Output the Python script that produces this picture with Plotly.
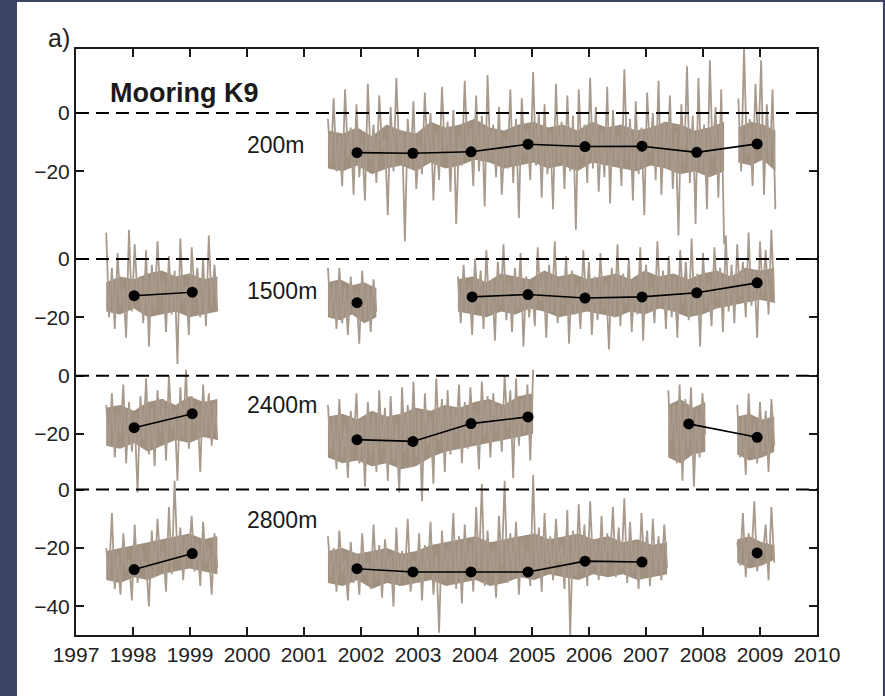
import plotly.graph_objects as go
import numpy as np

# ---------------- data ----------------
years_ticks = list(range(1997, 2011))
depth_labels = ["200m", "1500m", "2400m", "2800m"]
panel_zero = [0, -50, -90, -129]          # vertical placement of each panel's zero line

# annual means (year, value) ; None breaks the connecting line
mean_200_x = [2001.93, 2002.91, 2003.93, 2004.93, 2005.93, 2006.93, 2007.89, 2008.95]
mean_200_y = [-13.6, -13.8, -13.3, -10.7, -11.5, -11.4, -13.5, -10.6]
mean_1500_x = [1998.02, 1999.04, None, 2001.93, None, 2003.95, 2004.93, 2005.93, 2006.93, 2007.89, 2008.95]
mean_1500_y = [-12.6, -11.4, None, -15.0, None, -13.0, -12.2, -13.4, -13.0, -11.6, -8.2]
mean_2400_x = [1998.02, 1999.04, None, 2001.93, 2002.91, 2003.93, 2004.93, None, 2007.75, 2008.95]
mean_2400_y = [-17.8, -13.0, None, -21.9, -22.5, -16.4, -14.1, None, -16.5, -21.1]
mean_2800_x = [1998.02, 1999.04, None, 2001.93, 2002.91, 2003.93, 2004.93, 2005.93, 2006.93, None, 2008.95]
mean_2800_y = [-27.4, -21.9, None, -27.1, -28.2, -28.2, -28.2, -24.5, -24.8, None, -21.7]

step = 0.05  # sampling interval (years) of the raw records

# raw record segments: start year, raw values, and the dense core band (upper / lower)
s200_a_start = 2001.42
s200_a = ("-2 -18 5 -20 -8 -25 8 -15 -5 -28 3 -22 -10 -30 10 -16 -4 -24 6 -12 "
          "-9 -35 2 -20 12 -14 -6 -44 -2 -19 4 -26 -11 -21 7 -17 0 -30 -7 -23 "
          "9 -13 -3 -27 1 -38 -8 -18 11 -15 -5 -25 6 -20 -1 -32 13 -16 -4 -22 "
          "2 -28 -9 -19 8 -24 -2 -36 5 -14 -6 -23 14 -18 0 -29 3 -21 -7 -33 "
          "10 -17 -3 -26 6 -20 -1 -40 8 -15 -4 -24 12 -19 2 -27 -6 -22 9 -31 "
          "1 -18 -8 -25 15 -16 -2 -30 4 -21 -5 -35 7 -14 0 -23 11 -28 -3 -19 "
          "6 -26 -7 -42 3 -17 16 -24 -1 -38 12 -20 -4 -33 18 -15 2 -29 8 -45")
s200_a_up = "-6 -7 -5 -8 -4 -6 -7 -3 -5 -4 -2 -5 -6 -4 -3 -5 -4 -6 -3 -5 -4 -6 -5 -3 -4 -6 -5 -3"
s200_a_lo = "-19 -20 -18 -21 -19 -18 -20 -17 -19 -18 -16 -17 -19 -18 -17 -19 -18 -20 -17 -18 -19 -20 -18 -19 -21 -20 -22 -20"
s200_b_start = 2008.62
s200_b = "5 -20 22 -15 -2 -25 10 -12 18 -28 3 -18 8 -33"
s200_b_up = "-5 -3 -4 -6"
s200_b_lo = "-17 -18 -16 -20"

s1500_a_start = 1997.53
s1500_a = ("9 -20 -3 -24 2 -16 -10 -27 10 -18 5 -14 -6 -22 3 -30 -2 -17 6 -13 "
           "-7 -25 1 -19 -4 -36 7 -15 -9 -26 4 -12 -3 -20 0 -23 8 -16 -2 -18")
s1500_a_up = "-8 -6 -7 -5 -4 -6 -5 -7 -6"
s1500_a_lo = "-18 -19 -17 -20 -19 -18 -20 -19 -18"
s1500_b_start = 2001.42
s1500_b = "-3 -20 -8 -24 -3 -22 -10 -26 -6 -19 -12 -29 -4 -21 -9 -25 -7 -18"
s1500_b_up = "-8 -7 -9 -8 -10"
s1500_b_lo = "-20 -21 -19 -22 -20"
s1500_c_start = 2003.70
s1500_c = ("-6 -22 -2 -18 -9 -26 0 -15 -4 -24 3 -19 -7 -28 -1 -16 5 -21 -8 -25 "
           "-3 -17 2 -30 -6 -20 -10 -23 4 -14 -5 -27 -2 -18 6 -22 -7 -16 1 -29 "
           "-4 -19 -9 -24 3 -15 -1 -26 -6 -21 2 -17 -8 -31 -3 -20 5 -23 -5 -16 "
           "0 -25 -7 -19 4 -28 -2 -18 -10 -22 6 -16 -4 -24 1 -20 -6 -27 3 -15 "
           "-1 -21 7 -19 -5 -30 2 -17 -8 -23 4 -14 -3 -25 8 -18 -2 -22 5 -13 "
           "-1 -20 9 -16 -4 -27 6 -12 3 -19 10 -15")
s1500_c_up = "-7 -6 -8 -5 -6 -7 -4 -6 -5 -7 -6 -5 -7 -4 -6 -5 -7 -5 -4 -6 -3 -4 -3"
s1500_c_lo = "-18 -19 -20 -18 -19 -17 -18 -20 -19 -18 -19 -20 -18 -19 -17 -18 -20 -19 -17 -16 -15 -14 -15"

s2400_a_start = 1997.53
s2400_a = ("-10 -24 -6 -28 -13 -20 -3 -30 -9 -26 -15 -40 -7 -22 -1 -27 -11 -31 -5 -19 "
           "-8 -29 0 -18 -12 -36 -4 -21 2 -25 -7 -17 -10 -33 -3 -20 -6 -24 -9 -22")
s2400_a_up = "-11 -10 -12 -9 -8 -10 -7 -9 -8"
s2400_a_lo = "-24 -25 -23 -26 -24 -22 -23 -21 -22"
s2400_b_start = 2001.42
s2400_b = ("-10 -26 -14 -32 -8 -28 -17 -35 -12 -24 -6 -30 -15 -38 -9 -27 -13 -33 -5 -25 "
           "-11 -36 -7 -29 -16 -40 -4 -26 -10 -31 -2 -28 -12 -43 -6 -24 -14 -37 -1 -22 "
           "-8 -33 -5 -27 -11 -20 -3 -30 -9 -25 -4 -23 -13 -32 -2 -21 -7 -28 -6 -19 "
           "-10 -26 0 -18 -5 -35 -1 -24 -8 -20 -3 -29 2")
s2400_b_up = "-14 -13 -15 -12 -14 -13 -11 -12 -10 -11 -9 -8 -10 -7 -6"
s2400_b_lo = "-28 -30 -29 -31 -30 -32 -31 -28 -26 -25 -24 -23 -22 -21 -20"
s2400_c_start = 2007.39
s2400_c = "-5 -22 -10 -30 -3 -36 -8 -25 -4 -38 -12 -28 -6 -20"
s2400_c_up = "-10 -8 -11 -9"
s2400_c_lo = "-28 -30 -27 -26"
s2400_d_start = 2008.60
s2400_d = "-10 -28 -14 -34 -6 -25 -16 -30 -9 -27 -12 -33 -8 -24"
s2400_d_up = "-14 -13 -15 -14"
s2400_d_lo = "-27 -29 -28 -26"

s2800_a_start = 1997.53
s2800_a = ("-20 -30 -8 -34 -22 -36 -15 -28 -24 -38 -12 -32 -19 -27 -25 -40 -14 -30 -10 -26 "
           "-21 -35 -6 -29 3 -24 -13 -31 -16 -22 -9 -28 -18 -33 -11 -25 -20 -36 -15 -27")
s2800_a_up = "-21 -20 -19 -18 -17 -16 -15 -17 -16"
s2800_a_lo = "-31 -32 -30 -31 -29 -28 -27 -28 -29"
s2800_b_start = 2001.42
s2800_b = ("-16 -30 -20 -35 -14 -28 -24 -38 -18 -32 -22 -36 -15 -29 -25 -34 -12 -31 -19 -37 "
           "-17 -27 -23 -40 -13 -33 -21 -30 -10 -35 -24 -32 -15 -38 -19 -29 -11 -36 -22 -49 "
           "-14 -31 -20 -28 -8 -34 -16 -39 -12 -30 -18 -35 -6 -27 2 -33 -14 -29 -20 -37 "
           "-9 -26 3 -32 -15 -30 -11 -36 -17 -28 -21 -33 5 -29 -13 -35 -8 -27 -16 -31 "
           "-10 -25 -19 -34 -7 -50 -14 -30 -5 -28 -12 -33 -4 -26 -17 -31 -9 -29 -15 -24 "
           "-6 -30 -13 -27 -3 -32 -11 -28 -18 -34 -8 -26 -14 -33 -10 -29 -16 -31 -12 -27")
s2800_b_up = "-21 -20 -22 -21 -20 -22 -21 -19 -18 -17 -16 -18 -17 -16 -15 -17 -16 -15 -17 -16 -18 -17 -19 -18"
s2800_b_lo = "-32 -33 -31 -34 -32 -33 -32 -31 -33 -32 -31 -33 -32 -30 -31 -29 -30 -31 -29 -30 -29 -31 -30 -29"
s2800_c_start = 2008.60
s2800_c = "-18 -26 -8 -30 -15 -24 -4 -28 -20 -22 -12 -31 -6 -25"
s2800_c_up = "-17 -16 -18 -19"
s2800_c_lo = "-25 -27 -26 -24"

raw_segments = [
    [(s200_a_start, s200_a, s200_a_up, s200_a_lo), (s200_b_start, s200_b, s200_b_up, s200_b_lo)],
    [(s1500_a_start, s1500_a, s1500_a_up, s1500_a_lo), (s1500_b_start, s1500_b, s1500_b_up, s1500_b_lo),
     (s1500_c_start, s1500_c, s1500_c_up, s1500_c_lo)],
    [(s2400_a_start, s2400_a, s2400_a_up, s2400_a_lo), (s2400_b_start, s2400_b, s2400_b_up, s2400_b_lo),
     (s2400_c_start, s2400_c, s2400_c_up, s2400_c_lo), (s2400_d_start, s2400_d, s2400_d_up, s2400_d_lo)],
    [(s2800_a_start, s2800_a, s2800_a_up, s2800_a_lo), (s2800_b_start, s2800_b, s2800_b_up, s2800_b_lo),
     (s2800_c_start, s2800_c, s2800_c_up, s2800_c_lo)],
]
means = [(mean_200_x, mean_200_y), (mean_1500_x, mean_1500_y),
         (mean_2400_x, mean_2400_y), (mean_2800_x, mean_2800_y)]

# ---------------- figure ----------------
FONT = "Liberation Sans, Arial, Helvetica, sans-serif"
SPIKE_COLOR = "#a89a8c"
CORE_COLOR = "#a09080"
fig = go.Figure()

for p, segs in enumerate(raw_segments):
    for start, txt, up_txt, lo_txt in segs:
        vals = [float(v) for v in txt.split()]
        xs = [start + i * step for i in range(len(vals))]
        ys = [v + panel_zero[p] for v in vals]
        up = [float(v) + panel_zero[p] for v in up_txt.split()]
        lo = [float(v) + panel_zero[p] for v in lo_txt.split()]
        bx = list(np.linspace(xs[0], xs[-1], len(up)))
        fig.add_trace(go.Scatter(x=bx + bx[::-1], y=up + lo[::-1], mode="lines",
                                 fill="toself", fillcolor=CORE_COLOR,
                                 line=dict(width=0, color=CORE_COLOR),
                                 hoverinfo="skip", showlegend=False))
        fig.add_trace(go.Scatter(x=xs, y=ys, mode="lines",
                                 line=dict(color=SPIKE_COLOR, width=1.8),
                                 hoverinfo="skip", showlegend=False))

for p, (mx, my) in enumerate(means):
    ys = [None if v is None else v + panel_zero[p] for v in my]
    fig.add_trace(go.Scatter(x=mx, y=ys, mode="lines+markers",
                             line=dict(color="black", width=1.6),
                             marker=dict(color="black", size=11),
                             connectgaps=False, showlegend=False))

# dashed zero lines
for z in panel_zero:
    fig.add_shape(type="line", xref="paper", x0=0, x1=1, yref="y", y0=z, y1=z,
                  line=dict(color="black", width=2, dash="13px,7px"), layer="above")

# white page behind the chart (the dark frame is the paper colour)
fig.add_shape(type="rect", xref="paper", yref="paper",
              x0=-0.0796, x1=1.089, y0=-0.11, y1=1.0802,
              fillcolor="white", line=dict(width=0), layer="below")

# y ticks: each panel shows its own 0 / -20 (/ -40) labels
ytick_vals, ytick_text = [], []
panel_ticks = [[0, -20], [0, -20], [0, -20], [0, -20, -40]]
for p, tks in enumerate(panel_ticks):
    for t in tks:
        ytick_vals.append(t + panel_zero[p])
        ytick_text.append(str(t).replace("-", "\u2212"))

axis_common = dict(showline=True, linecolor="#1a1a1a", linewidth=2, mirror="ticks",
                   ticks="inside", ticklen=8, tickwidth=1.5, tickcolor="#1a1a1a",
                   showgrid=False, zeroline=False,
                   tickfont=dict(family=FONT, size=21, color="#222222"))

fig.update_xaxes(range=[1997, 2010], tickvals=years_ticks,
                 ticktext=[str(y) for y in years_ticks], **axis_common)
fig.update_yaxes(range=[-178.8, 21.9], tickvals=ytick_vals, ticktext=ytick_text,
                 **axis_common)

# text labels
fig.add_annotation(xref="paper", yref="paper", x=-0.0405, y=1.0188, text="a)",
                   showarrow=False, xanchor="left", yanchor="middle",
                   font=dict(family=FONT, size=25, color="#222222"))
fig.add_annotation(x=1997.57, y=6.85, text="<b>Mooring K9</b>", showarrow=False,
                   xanchor="left", yanchor="middle",
                   font=dict(family=FONT, size=27, color="#1a1a1a"))
label_y = [-10.96, -61.0, -100.0, -139.4]
for lab, ly in zip(depth_labels, label_y):
    fig.add_annotation(x=1999.97, y=ly, text=lab, showarrow=False,
                       xanchor="left", yanchor="middle",
                       font=dict(family=FONT, size=23, color="#1a1a1a"))

fig.update_layout(width=885, height=696,
                  margin=dict(l=76, r=68, t=49, b=61),
                  paper_bgcolor="#3c4465", plot_bgcolor="white",
                  showlegend=False)

fig.write_html("out.html")
